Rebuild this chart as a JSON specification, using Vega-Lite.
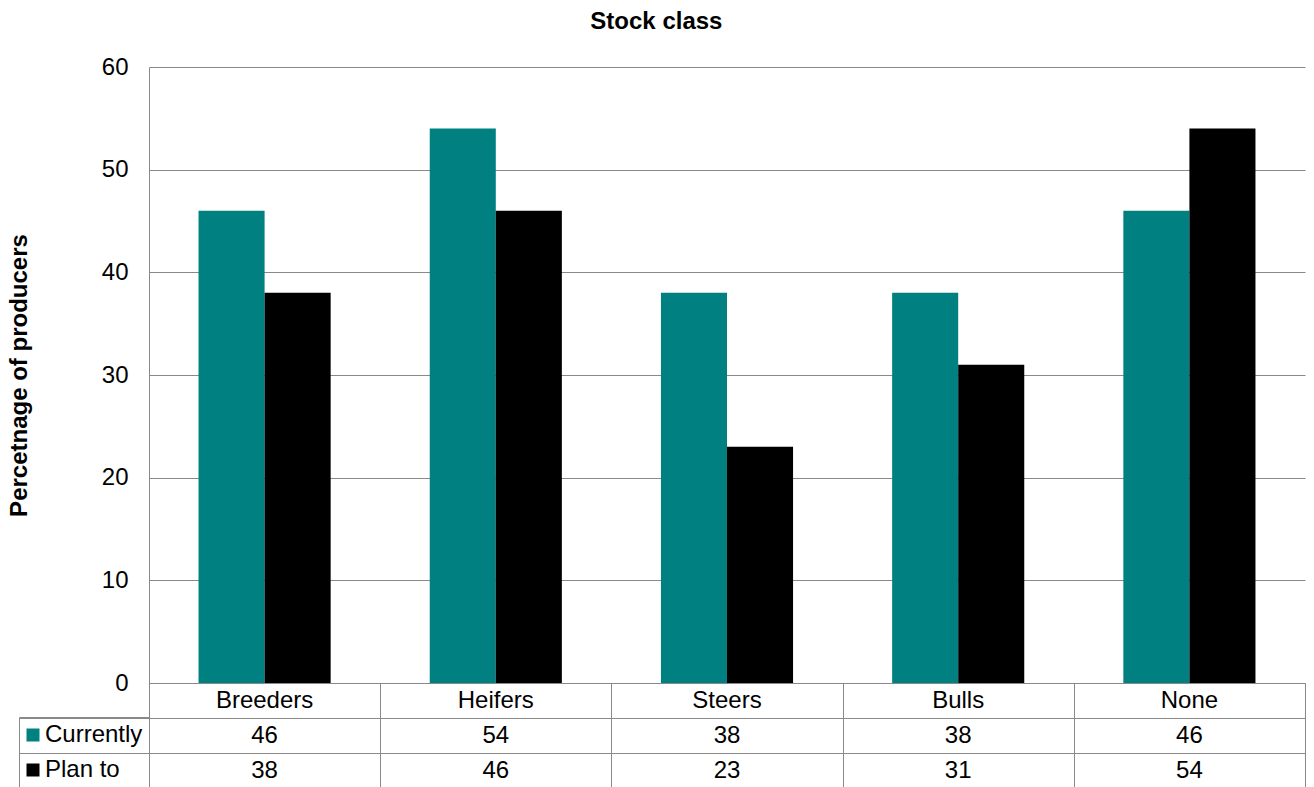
{
  "$schema": "https://vega.github.io/schema/vega-lite/v6.json",
  "background": "white",
  "padding": {"left": 7, "top": 10, "right": 0, "bottom": 0},
  "spacing": 0,
  "bounds": "flush",
  "title": {
    "text": "Stock class",
    "font": "Liberation Sans",
    "fontSize": 24,
    "fontWeight": "bold",
    "color": "#000000",
    "anchor": "middle",
    "offset": 21
  },
  "config": {
    "font": "Liberation Sans",
    "view": {"stroke": null},
    "axis": {
      "labelFont": "Liberation Sans",
      "titleFont": "Liberation Sans",
      "labelColor": "#000000",
      "titleColor": "#000000"
    }
  },
  "data": {
    "values": [
      {"stock": "Breeders", "series": "Currently", "pct": 46},
      {"stock": "Breeders", "series": "Plan to", "pct": 38},
      {"stock": "Heifers", "series": "Currently", "pct": 54},
      {"stock": "Heifers", "series": "Plan to", "pct": 46},
      {"stock": "Steers", "series": "Currently", "pct": 38},
      {"stock": "Steers", "series": "Plan to", "pct": 23},
      {"stock": "Bulls", "series": "Currently", "pct": 38},
      {"stock": "Bulls", "series": "Plan to", "pct": 31},
      {"stock": "None", "series": "Currently", "pct": 46},
      {"stock": "None", "series": "Plan to", "pct": 54}
    ]
  },
  "vconcat": [
    {
      "width": 1156,
      "height": 616,
      "mark": {"type": "bar"},
      "encoding": {
        "x": {
          "field": "stock",
          "type": "nominal",
          "sort": ["Breeders", "Heifers", "Steers", "Bulls", "None"],
          "scale": {"paddingInner": 0, "paddingOuter": 0},
          "axis": null
        },
        "xOffset": {
          "field": "series",
          "type": "nominal",
          "sort": ["Currently", "Plan to"],
          "scale": {"paddingInner": 0, "paddingOuter": 0.75}
        },
        "y": {
          "field": "pct",
          "type": "quantitative",
          "scale": {"domain": [0, 60], "nice": false},
          "axis": {
            "title": "Percetnage of producers",
            "titleFontSize": 24,
            "titleFontWeight": "bold",
            "titlePadding": 70,
            "values": [0, 10, 20, 30, 40, 50, 60],
            "labelFontSize": 24,
            "labelPadding": 21,
            "ticks": false,
            "tickSize": 0,
            "domainColor": "#898989",
            "gridColor": "#898989",
            "grid": true
          }
        },
        "color": {
          "field": "series",
          "type": "nominal",
          "scale": {"domain": ["Currently", "Plan to"], "range": ["#008080", "#000000"]},
          "legend": {
            "orient": "none",
            "legendX": -130,
            "legendY": 650,
            "title": null,
            "direction": "vertical",
            "symbolType": "square",
            "symbolSize": 169,
            "symbolStrokeWidth": 0,
            "symbolOffset": -4,
            "labelFont": "Liberation Sans",
            "labelFontSize": 24,
            "labelColor": "#000000",
            "labelOffset": 0,
            "labelLimit": 300,
            "rowPadding": 11,
            "padding": 6,
            "strokeColor": "#898989"
          }
        }
      }
    },
    {
      "width": 1156,
      "height": 105,
      "view": {"stroke": "#898989", "strokeWidth": 1},
      "encoding": {
        "x": {
          "field": "stock",
          "type": "nominal",
          "sort": ["Breeders", "Heifers", "Steers", "Bulls", "None"],
          "scale": {"paddingInner": 0, "paddingOuter": 0},
          "axis": {
            "orient": "top",
            "title": null,
            "labels": false,
            "ticks": false,
            "domain": false,
            "grid": true,
            "tickBand": "extent",
            "gridColor": "#898989"
          }
        }
      },
      "layer": [
        {
          "transform": [{"filter": "datum.series === 'Currently'"}],
          "mark": {"type": "text", "fontSize": 24, "color": "#000000", "baseline": "middle"},
          "encoding": {
            "y": {"datum": "header", "type": "nominal"},
            "text": {"field": "stock"}
          }
        },
        {
          "mark": {"type": "text", "fontSize": 24, "color": "#000000", "baseline": "middle"},
          "encoding": {
            "y": {
              "field": "series",
              "type": "nominal",
              "scale": {"domain": ["header", "Currently", "Plan to"], "paddingInner": 0, "paddingOuter": 0},
              "axis": {
                "title": null,
                "labels": false,
                "domain": false,
                "ticks": true,
                "tickBand": "extent",
                "tickSize": 130,
                "tickColor": "#898989",
                "values": ["Currently", "Plan to"],
                "grid": true,
                "gridColor": "#898989"
              }
            },
            "text": {"field": "pct", "type": "quantitative"}
          }
        }
      ]
    }
  ]
}
